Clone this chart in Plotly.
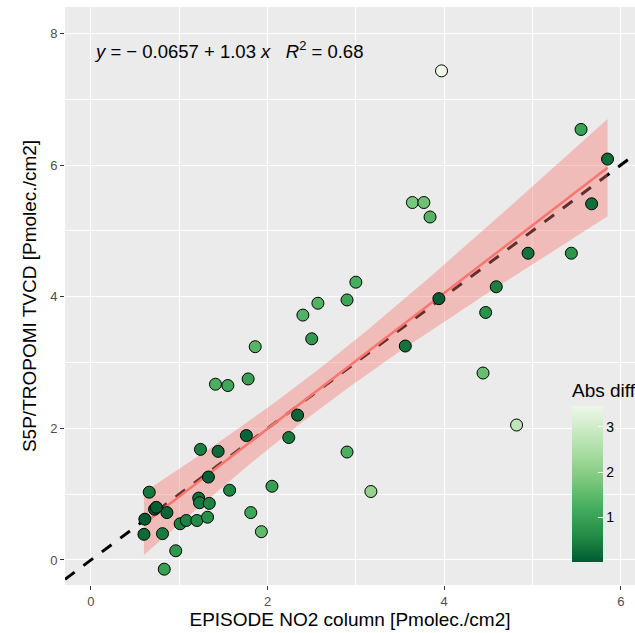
import numpy as np
import plotly.graph_objects as go

# EPISODE NO2 column (x) and S5P/TROPOMI TVCD (y), Pmolec./cm2
episode = [3.97, 5.55, 5.85, 3.64, 3.77, 3.84, 5.67, 4.95, 5.44, 3.00,
           2.90, 2.57, 2.40, 3.94, 4.59, 4.47, 2.50, 3.56, 1.86, 1.41,
           1.55, 1.78, 4.44, 4.82, 2.34, 1.76, 2.24, 2.90, 1.24, 1.44,
           3.17, 1.33, 2.05, 1.57, 1.81, 1.93, 1.22, 1.23, 1.34, 0.72,
           0.61, 0.86, 1.01, 1.08, 1.20, 0.60, 0.81, 0.96, 0.83, 0.74,
           1.32, 0.66]
tropomi = [7.43, 6.54, 6.09, 5.43, 5.43, 5.21, 5.41, 4.66, 4.66, 4.22,
           3.95, 3.90, 3.72, 3.97, 4.15, 3.76, 3.36, 3.25, 3.24, 2.67,
           2.65, 2.75, 2.84, 2.05, 2.20, 1.89, 1.86, 1.64, 1.68, 1.65,
           1.04, 1.26, 1.12, 1.06, 0.72, 0.43, 0.94, 0.87, 0.86, 0.77,
           0.62, 0.72, 0.55, 0.60, 0.60, 0.39, 0.40, 0.14, -0.14, 0.80,
           0.65, 1.03]

intercept = -0.0657
slope = 1.03
r2 = 0.68
x_ticks = [0, 2, 4, 6]
y_ticks = [0, 2, 4, 6, 8]
cbar_ticks = [1, 2, 3]

x = np.array(episode)
y = np.array(tropomi)
absdiff = np.abs(y - x)

# regression line and 95% confidence band
n = len(x)
xs = np.linspace(x.min(), x.max(), 80)
fit = intercept + slope * xs
resid = y - (intercept + slope * x)
s = np.sqrt(np.sum(resid ** 2) / (n - 2))
sxx = np.sum((x - x.mean()) ** 2)
se = s * np.sqrt(1.0 / n + (xs - x.mean()) ** 2 / sxx)
tval = 2.009
upper = fit + tval * se
lower = fit - tval * se

greens = [[0.0, "#005a32"], [1/6, "#238b45"], [2/6, "#41ab5d"], [3/6, "#74c476"],
          [4/6, "#a1d99b"], [5/6, "#c7e9c0"], [1.0, "#edf8e9"]]

W, H = 635, 633
ml, mr, mt, mb = 65, 0, 7, 48
pw, ph = W - ml - mr, H - mt - mb
xr = [-0.294, 6.161]
yr = [-0.38, 8.40]
FONT = "Liberation Sans"

fig = go.Figure()
# 1:1 dashed line
fig.add_trace(go.Scatter(x=xr, y=xr, mode="lines",
                         line=dict(color="black", width=3, dash="12px,11px"),
                         hoverinfo="skip", showlegend=False))
# confidence ribbon
fig.add_trace(go.Scatter(x=np.concatenate([xs, xs[::-1]]),
                         y=np.concatenate([upper, lower[::-1]]),
                         fill="toself", fillcolor="rgba(248,118,109,0.4)",
                         line=dict(width=0), mode="lines",
                         hoverinfo="skip", showlegend=False))
# regression line
fig.add_trace(go.Scatter(x=xs, y=fit, mode="lines",
                         line=dict(color="#F8766D", width=2.5),
                         hoverinfo="skip", showlegend=False))
# points
fig.add_trace(go.Scatter(
    x=x, y=y, mode="markers", showlegend=False,
    marker=dict(size=12, color=absdiff, colorscale=greens,
                cmin=absdiff.min(), cmax=absdiff.max(),
                line=dict(color="black", width=1),
                colorbar=dict(
                    title=dict(text="Abs diff", side="top",
                               font=dict(size=19, color="black", family=FONT)),
                    x=(572 - ml) / pw, xanchor="left", xpad=0,
                    y=(H - mb - 562) / ph, yanchor="bottom", ypad=0,
                    len=182, lenmode="pixels", thickness=31,
                    outlinewidth=0, tickvals=cbar_ticks,
                    ticks="inside", ticklen=5, tickcolor="white",
                    tickfont=dict(size=14, color="black", family=FONT),
                    bgcolor="rgba(0,0,0,0)"))))

fig.add_annotation(
    text="<i>y</i> = − 0.0657 + 1.03 <i>x</i>   <i>R</i><sup>2</sup> = 0.68",
    xref="paper", yref="paper", x=(92 - ml) / pw, y=(H - mb - 50) / ph,
    xanchor="left", yanchor="middle", showarrow=False,
    font=dict(size=18.5, color="black", family=FONT))

axis_common = dict(
    showgrid=True, gridcolor="white", gridwidth=1.1, zeroline=False,
    showline=False, ticks="outside", ticklen=4, tickcolor="#333333", tickwidth=1,
    tickfont=dict(size=13, color="#4d4d4d", family=FONT),
    minor=dict(dtick=1, tick0=0, showgrid=True, gridcolor="white", gridwidth=0.5, ticks=""),
)
fig.update_xaxes(**axis_common, range=xr, tickvals=x_ticks,
                 title=dict(text="EPISODE NO2 column [Pmolec./cm2]", standoff=4,
                            font=dict(size=19, color="black", family=FONT)))
fig.update_yaxes(**axis_common, range=yr, tickvals=y_ticks,
                 title=dict(text="S5P/TROPOMI TVCD [Pmolec./cm2]", standoff=8,
                            font=dict(size=19, color="black", family=FONT)))

fig.update_layout(width=W, height=H, margin=dict(l=ml, r=mr, t=mt, b=mb, autoexpand=False),
                  plot_bgcolor="#ebebeb", paper_bgcolor="white",
                  font=dict(family=FONT))
fig.write_html("out.html", config={"displayModeBar": False},
               post_script="document.body.style.margin='0px';document.body.style.overflow='hidden';")
